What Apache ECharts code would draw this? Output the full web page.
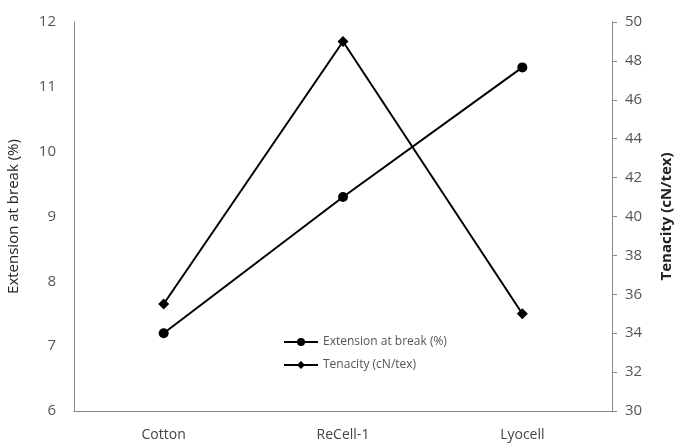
<!DOCTYPE html>
<html>
<head>
<meta charset="utf-8">
<script src="https://cdn.jsdelivr.net/npm/echarts@6/dist/echarts.min.js"></script>
<style>
  html, body { margin: 0; padding: 0; background: #fff; }
  #chart { width: 675px; height: 448px; }
</style>
</head>
<body>
<div id="chart"></div>
<script>
const categories = ['Cotton', 'ReCell-1', 'Lyocell'];
const extension = [7.2, 9.3, 11.3];
const tenacity = [35.5, 49, 35];

const myChart = echarts.init(document.getElementById('chart'));
const fontFamily = '"Open Sans", Lato, sans-serif';

const option = {
    backgroundColor: '#ffffff',
    animation: false,
    textStyle: {fontFamily: fontFamily},
    grid: {
        top: 22,
        left: 74,
        right: 63,
        bottom: 37,
        containLabel: false,
        outerBoundsMode: 'none'
    },
    legend: {
        orient: 'vertical',
        left: 278,
        top: 331,
        itemWidth: 34,
        itemHeight: 10,
        itemGap: 11,
        textStyle: {
            color: '#555',
            fontSize: 12,
            fontFamily: fontFamily
        },
        data: ['Extension at break (%)', 'Tenacity (cN/tex)']
    },
    xAxis: {
        type: 'category',
        data: categories,
        boundaryGap: true,
        axisLine: {lineStyle: {color: '#888', width: 1}},
        axisTick: {show: false},
        splitLine: {show: false},
        axisLabel: {
            color: '#444',
            fontSize: 14,
            margin: 17
        }
    },
    yAxis: [
        {
            type: 'value',
            position: 'left',
            min: 6,
            max: 12,
            interval: 1,
            name: 'Extension at break (%)',
            nameLocation: 'middle',
            nameGap: 53,
            nameTextStyle: {
                color: '#222',
                fontSize: 15
            },
            axisLine: {show: true, lineStyle: {color: '#888', width: 1}},
            axisTick: {show: false},
            splitLine: {show: false},
            axisLabel: {
                color: '#555',
                fontSize: 15,
                margin: 18
            }
        },
        {
            type: 'value',
            position: 'right',
            min: 30,
            max: 50,
            interval: 2,
            name: 'Tenacity (cN/tex)',
            nameLocation: 'middle',
            nameGap: 47,
            nameRotate: 90,
            nameTextStyle: {
                color: '#222',
                fontSize: 15,
                fontWeight: 'bold'
            },
            axisLine: {show: true, lineStyle: {color: '#888', width: 1}},
            axisTick: {show: true, length: 5, lineStyle: {color: '#888'}},
            splitLine: {show: false},
            axisLabel: {
                color: '#555',
                fontSize: 15,
                margin: 13
            }
        }
    ],
    series: [
        {
            name: 'Extension at break (%)',
            type: 'line',
            yAxisIndex: 0,
            data: extension,
            symbol: 'circle',
            symbolSize: 10,
            lineStyle: {color: '#000', width: 2},
            itemStyle: {color: '#000'}
        },
        {
            name: 'Tenacity (cN/tex)',
            type: 'line',
            yAxisIndex: 1,
            data: tenacity,
            symbol: 'diamond',
            symbolSize: 11,
            lineStyle: {color: '#000', width: 2},
            itemStyle: {color: '#000'}
        }
    ]
};

myChart.setOption(option);
window.onresize = myChart.resize;
</script>
</body>
</html>
